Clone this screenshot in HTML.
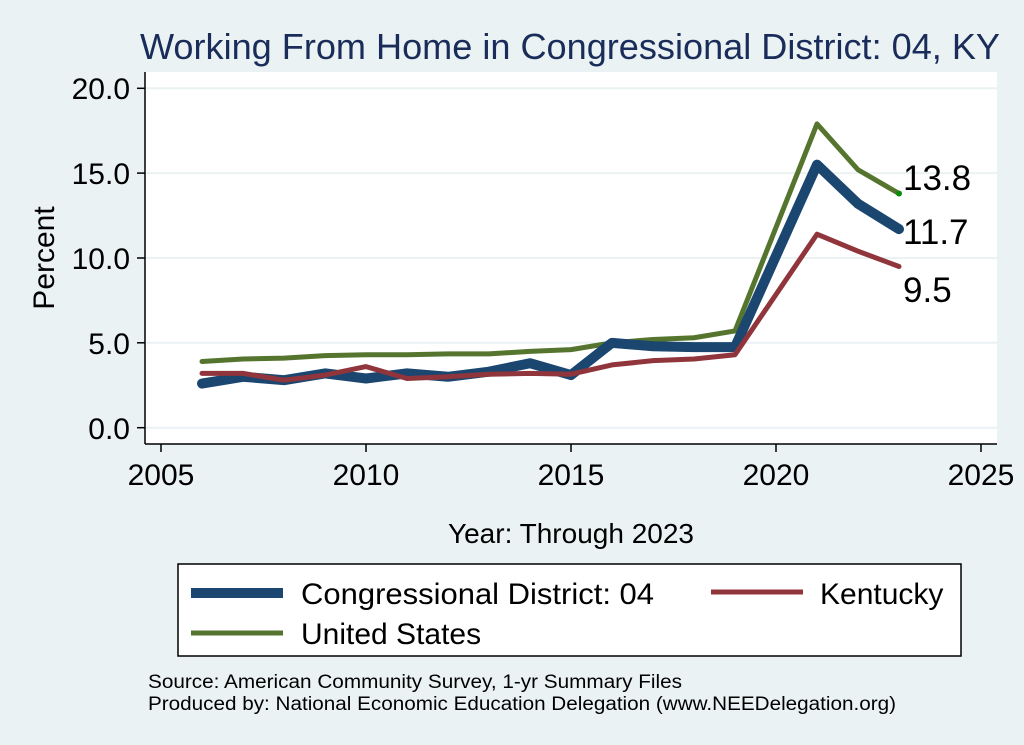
<!DOCTYPE html>
<html><head><meta charset="utf-8"><style>
body{margin:0;background:#eaf2f3;}
svg{display:block;font-family:"Liberation Sans",Arial,sans-serif;}
</style></head><body>
<svg id="s" width="1024" height="745" xmlns="http://www.w3.org/2000/svg">
<rect width="1024" height="745" fill="#eaf2f3"/>
<text x="570" y="59" font-size="36" fill="#1a2d5a" text-anchor="middle" textLength="860" lengthAdjust="spacingAndGlyphs">Working From Home in Congressional District: 04, KY</text>
<rect x="145" y="72" width="852" height="372" fill="#fff"/>
<g stroke="#eaf2f3" stroke-width="2">
<line x1="146" x2="997" y1="88.3" y2="88.3"/><line x1="146" x2="997" y1="173.1" y2="173.1"/>
<line x1="146" x2="997" y1="258" y2="258"/><line x1="146" x2="997" y1="342.8" y2="342.8"/>
<line x1="146" x2="997" y1="427.7" y2="427.7"/></g>
<g stroke="#000" stroke-width="1.5">
<line x1="145" y1="72" x2="145" y2="444"/><line x1="145" y1="444" x2="997" y2="444"/>
<line x1="137" x2="145" y1="88.3" y2="88.3"/><line x1="137" x2="145" y1="173.1" y2="173.1"/>
<line x1="137" x2="145" y1="258" y2="258"/><line x1="137" x2="145" y1="342.8" y2="342.8"/>
<line x1="137" x2="145" y1="427.7" y2="427.7"/>
<line x1="161" x2="161" y1="444" y2="452"/><line x1="366" x2="366" y1="444" y2="452"/>
<line x1="571" x2="571" y1="444" y2="452"/><line x1="776" x2="776" y1="444" y2="452"/>
<line x1="981" x2="981" y1="444" y2="452"/></g>
<g font-size="30" text-anchor="end" fill="#000">
<text x="130" y="99">20.0</text><text x="130" y="184">15.0</text><text x="130" y="269">10.0</text>
<text x="130" y="354">5.0</text><text x="130" y="439">0.0</text></g>
<g font-size="30" text-anchor="middle" fill="#000">
<text x="161" y="485">2005</text><text x="366" y="485">2010</text><text x="571" y="485">2015</text>
<text x="776" y="485">2020</text><text x="981" y="485">2025</text></g>
<text transform="translate(54,258) rotate(-90)" font-size="30" text-anchor="middle">Percent</text>
<text x="571" y="543" font-size="28" text-anchor="middle">Year: Through 2023</text>
<g id="lines" fill="none" stroke-linejoin="round" stroke-linecap="round"></g>
<circle cx="899" cy="193.5" r="3" fill="#0a8a0a"/>
<g font-size="35" fill="#000">
<text x="903" y="190">13.8</text><text x="903" y="244">11.7</text><text x="903" y="302">9.5</text></g>
<rect x="178" y="564" width="783" height="92" fill="#fff" stroke="#000" stroke-width="1.5"/>
<line x1="191" x2="283" y1="593" y2="593" stroke="#1a4670" stroke-width="10"/>
<line x1="711" x2="803" y1="592" y2="592" stroke="#90353b" stroke-width="5"/>
<line x1="191" x2="283" y1="633" y2="633" stroke="#55752f" stroke-width="5"/>
<g font-size="30" fill="#000">
<text x="301" y="604" textLength="353" lengthAdjust="spacingAndGlyphs">Congressional District: 04</text>
<text x="820" y="604">Kentucky</text>
<text x="301" y="644">United States</text></g>
<g font-size="19" fill="#000">
<text x="148" y="688" textLength="534" lengthAdjust="spacingAndGlyphs">Source: American Community Survey, 1-yr Summary Files</text>
<text x="148" y="710" textLength="748" lengthAdjust="spacingAndGlyphs">Produced by: National Economic Education Delegation (www.NEEDelegation.org)</text></g>
</svg>
<script>
var yrs=[2006,2007,2008,2009,2010,2011,2012,2013,2014,2015,2016,2017,2018,2019,2021,2022,2023];
var series=[
["#55752f",5,[3.9,4.05,4.1,4.25,4.3,4.3,4.35,4.35,4.5,4.6,5.0,5.2,5.3,5.7,17.9,15.2,13.8]],
["#1a4670",10,[2.6,3.0,2.8,3.2,2.9,3.2,3.0,3.3,3.8,3.1,5.0,4.8,4.75,4.75,15.5,13.2,11.7]],
["#90353b",5,[3.2,3.2,2.8,3.1,3.6,2.9,3.0,3.15,3.2,3.15,3.7,3.95,4.05,4.3,11.4,10.4,9.5]]];
var g=document.getElementById('lines'),ns="http://www.w3.org/2000/svg";
series.forEach(function(s){var p=document.createElementNS(ns,'polyline');
p.setAttribute('points',yrs.map(function(y,i){return (161+(y-2005)*41)+','+(427.7-s[2][i]*16.97)}).join(' '));
p.setAttribute('stroke',s[0]);p.setAttribute('stroke-width',s[1]);g.appendChild(p);});
</script>
</body></html>
